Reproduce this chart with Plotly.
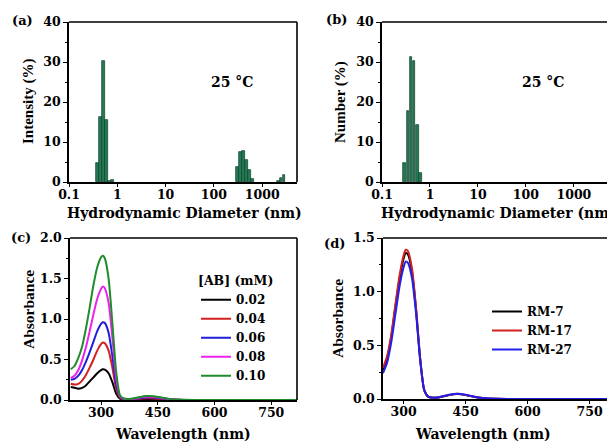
import numpy as np
import plotly.graph_objects as go

# ---------------- DLS size distributions ----------------
# (a) intensity distribution
diam_int = [0.383, 0.443, 0.508, 0.587, 0.678, 0.783,
            309, 355, 407, 478, 550, 631,
            2130, 2450, 2820]
intensity = [4.8, 16.3, 30.2, 15.5, 0.3, 0.5,
             3.8, 7.4, 7.8, 5.5, 3.0, 0.8,
             0.3, 0.9, 1.8]

# (b) number distribution
diam_num = [0.300, 0.347, 0.402, 0.466, 0.540, 0.625]
number = [4.8, 17.8, 31.2, 30.2, 14.2, 2.2]

size_ticks = [0.1, 1, 10, 100, 1000]
size_tick_text = ["0.1", "1", "10", "100", "1000"]

# ---------------- UV-vis spectra ----------------
# (c) concentration series
wl_c = [220, 230, 240, 250, 260, 270, 280, 290, 300, 305, 310, 320, 330, 340,
        350, 360, 380, 400, 420, 440, 460, 480, 500, 550, 650, 820]
conc_labels = ["0.02", "0.04", "0.06", "0.08", "0.10"]
abs_002 = [0.16, 0.15, 0.14, 0.15, 0.18, 0.23, 0.28, 0.33, 0.37, 0.38, 0.375, 0.33, 0.22, 0.08,
           0.015, 0.005, 0.004, 0.008, 0.011, 0.010, 0.007, 0.003, 0.001, 0.0, 0.0, 0.0]
abs_004 = [0.20, 0.19, 0.20, 0.24, 0.31, 0.40, 0.50, 0.61, 0.69, 0.71, 0.70, 0.61, 0.40, 0.14,
           0.03, 0.01, 0.008, 0.015, 0.021, 0.020, 0.014, 0.006, 0.002, 0.0, 0.0, 0.0]
abs_006 = [0.25, 0.26, 0.30, 0.37, 0.47, 0.59, 0.72, 0.85, 0.94, 0.96, 0.95, 0.83, 0.54, 0.19,
           0.04, 0.01, 0.01, 0.022, 0.031, 0.030, 0.020, 0.009, 0.003, 0.0, 0.0, 0.0]
abs_008 = [0.27, 0.30, 0.37, 0.49, 0.65, 0.85, 1.06, 1.25, 1.37, 1.40, 1.38, 1.20, 0.77, 0.27,
           0.05, 0.015, 0.012, 0.028, 0.040, 0.038, 0.026, 0.011, 0.004, 0.0, 0.0, 0.0]
abs_010 = [0.38, 0.42, 0.52, 0.66, 0.88, 1.14, 1.42, 1.64, 1.76, 1.78, 1.75, 1.50, 0.95, 0.35,
           0.06, 0.02, 0.015, 0.035, 0.050, 0.047, 0.032, 0.014, 0.005, 0.0, 0.0, 0.0]
conc_series = [abs_002, abs_004, abs_006, abs_008, abs_010]
conc_colors = ["#000000", "#d21f1f", "#1f1fd8", "#ee22ee", "#1f8c2b"]

# (d) RM samples
wl_d = [250, 260, 270, 280, 290, 300, 305, 310, 320, 330, 340, 350, 360, 380,
        400, 420, 430, 440, 460, 480, 500, 550, 650, 800]
rm_labels = ["RM-7", "RM-17", "RM-27"]
abs_rm7 = [0.27, 0.38, 0.58, 0.86, 1.12, 1.31, 1.36, 1.35, 1.19, 0.83, 0.37, 0.08, 0.02, 0.012,
           0.028, 0.043, 0.046, 0.043, 0.029, 0.014, 0.005, 0.0, 0.0, 0.0]
abs_rm17 = [0.29, 0.40, 0.60, 0.88, 1.15, 1.34, 1.39, 1.38, 1.22, 0.85, 0.38, 0.08, 0.02, 0.013,
            0.030, 0.045, 0.048, 0.045, 0.030, 0.015, 0.006, 0.0, 0.0, 0.0]
abs_rm27 = [0.24, 0.34, 0.53, 0.79, 1.05, 1.23, 1.28, 1.27, 1.13, 0.80, 0.36, 0.08, 0.02, 0.013,
            0.030, 0.046, 0.049, 0.046, 0.031, 0.015, 0.006, 0.0, 0.0, 0.0]
rm_series = [abs_rm7, abs_rm17, abs_rm27]
rm_colors = ["#000000", "#d21f1f", "#1f1fee"]

# ---------------- figure ----------------
W, H = 607, 443
FONT = "DejaVu Serif"
FONT_V = "Liberation Serif"
bar_fill = "#237a55"
bar_edge = "#0f3f2a"
bin_w = 0.0637 * 0.92  # bin width in decades


def px_x(x):
    return x / W


def px_y(y):
    return 1 - y / H


fig = go.Figure()

fig.add_trace(go.Bar(x=np.log10(diam_int), y=intensity, width=bin_w,
                     marker=dict(color=bar_fill, line=dict(color=bar_edge, width=0.7)),
                     xaxis="x", yaxis="y", showlegend=False))
fig.add_trace(go.Bar(x=np.log10(diam_num), y=number, width=bin_w,
                     marker=dict(color=bar_fill, line=dict(color=bar_edge, width=0.7)),
                     xaxis="x2", yaxis="y2", showlegend=False))

for lab, vals, col in zip(conc_labels, conc_series, conc_colors):
    fig.add_trace(go.Scatter(x=wl_c, y=vals, mode="lines", name=lab,
                             line=dict(color=col, width=2, shape="spline", smoothing=0.6),
                             xaxis="x3", yaxis="y3", legend="legend"))

for lab, vals, col in zip(rm_labels, rm_series, rm_colors):
    fig.add_trace(go.Scatter(x=wl_d, y=vals, mode="lines", name=lab,
                             line=dict(color=col, width=2, shape="spline", smoothing=0.6),
                             xaxis="x4", yaxis="y4", legend="legend2"))

tickfont = dict(family=FONT, size=12.5, color="black", weight="bold")
axis_common = dict(showline=True, linecolor="black", linewidth=1.6, ticks="outside",
                   ticklen=4, tickwidth=1.4, tickcolor="black", tickfont=tickfont,
                   showgrid=False, zeroline=False, fixedrange=True, mirror=False)
x_common = dict(axis_common, ticklen=3, ticklabelstandoff=-3)
minor_y = dict(ticks="outside", ticklen=2, tickcolor="black", tickwidth=1)

log_tickvals = list(np.log10(size_ticks))

fig.update_layout(
    width=W, height=H, margin=dict(l=0, r=0, t=0, b=0, pad=0, autoexpand=False),
    paper_bgcolor="white", plot_bgcolor="white", bargap=0,
    xaxis=dict(x_common, domain=[px_x(69), px_x(297)], range=[-1, 3.72],
               tickvals=log_tickvals, ticktext=size_tick_text, anchor="y"),
    yaxis=dict(axis_common, domain=[px_y(182), px_y(22)], range=[0, 40], dtick=10,
               anchor="x", minor=dict(minor_y, dtick=5)),
    xaxis2=dict(x_common, domain=[px_x(382), 1], range=[-1, 3.69],
                tickvals=log_tickvals, ticktext=size_tick_text, anchor="y2"),
    yaxis2=dict(axis_common, domain=[px_y(182), px_y(22)], range=[0, 40], dtick=10,
                anchor="x2", minor=dict(minor_y, dtick=5)),
    xaxis3=dict(x_common, domain=[px_x(70), px_x(297)], range=[218, 818],
                tickvals=[300, 450, 600, 750], anchor="y3"),
    yaxis3=dict(axis_common, domain=[px_y(400), px_y(238)], range=[0, 2.0],
                tickvals=[0, 0.5, 1.0, 1.5, 2.0], tickformat=".1f", anchor="x3",
                minor=dict(minor_y, dtick=0.25)),
    xaxis4=dict(x_common, domain=[px_x(383), 1], range=[250, 792],
                tickvals=[300, 450, 600, 750], anchor="y4"),
    yaxis4=dict(axis_common, domain=[px_y(399), px_y(238)], range=[0, 1.5],
                tickvals=[0, 0.5, 1.0, 1.5], tickformat=".1f", anchor="x4",
                minor=dict(minor_y, dtick=0.25)),
    legend=dict(x=px_x(196), y=px_y(269), xanchor="left", yanchor="top",
                bgcolor="rgba(0,0,0,0)", borderwidth=0,
                font=dict(family=FONT, size=12, color="black", weight="bold"),
                title=dict(text="[AB] (mM)",
                           font=dict(family=FONT, size=12.5, color="black", weight="bold")),
                tracegroupgap=0),
    legend2=dict(x=px_x(487), y=px_y(297), xanchor="left", yanchor="top",
                 bgcolor="rgba(0,0,0,0)", borderwidth=0,
                 font=dict(family=FONT, size=12, color="black", weight="bold")),
)

# closing frame lines: top and right for (a), (c); top only for the cut-off (b), (d)
frame = dict(color="black", width=1.6)
for xr, yr, right in [("x", "y", True), ("x2", "y2", False),
                      ("x3", "y3", True), ("x4", "y4", False)]:
    fig.add_shape(type="line", xref=f"{xr} domain", yref=f"{yr} domain",
                  x0=0, x1=1, y0=1, y1=1, line=frame)
    if right:
        fig.add_shape(type="line", xref=f"{xr} domain", yref=f"{yr} domain",
                      x0=1, x1=1, y0=0, y1=1, line=frame)


def label(text, x, y, size=13, angle=0, family=FONT):
    fig.add_annotation(text=text, x=px_x(x), y=px_y(y), xref="paper", yref="paper",
                       xanchor="center", yanchor="middle",
                       showarrow=False, textangle=angle,
                       font=dict(family=family, size=size, color="black", weight="bold"))


# panel letters
label("(a)", 22, 21)
label("(b)", 336, 19)
label("(c)", 21, 237)
label("(d)", 334, 243)

# in-plot temperature labels
label("25 °C", 232, 82, size=14)
label("25 °C", 543, 82, size=14)

# axis titles
label("Intensity (%)", 28, 102, size=15, angle=-90, family=FONT_V)
label("Number (%)", 340, 102, size=15, angle=-90, family=FONT_V)
label("Absorbance", 28, 310, size=15.5, angle=-90, family=FONT_V)
label("Absorbance", 337, 318, size=15.5, angle=-90, family=FONT_V)
label("Hydrodynamic Diameter (nm)", 184, 213, size=14)
label("Hydrodynamic Diameter (nm)", 498, 213, size=14)
label("Wavelength (nm)", 183, 434, size=14)
label("Wavelength (nm)", 483, 434, size=14)

fig.write_html("out.html")
